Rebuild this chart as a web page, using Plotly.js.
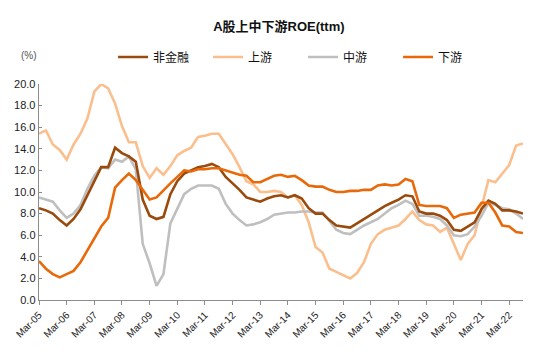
<!DOCTYPE html>
<html>
<head>
<meta charset="utf-8">
<script src="https://cdn.plot.ly/plotly-3.0.1.min.js"></script>
<style>html,body{margin:0;padding:0;background:#fff;}#chart{width:550px;height:353px;}</style>
</head>
<body>
<div id="chart"></div>
<script>
// Quarter categories Mar-05 .. Sep-22
const quarters = [
 "Mar-05","Jun-05","Sep-05","Dec-05","Mar-06","Jun-06","Sep-06","Dec-06",
 "Mar-07","Jun-07","Sep-07","Dec-07","Mar-08","Jun-08","Sep-08","Dec-08",
 "Mar-09","Jun-09","Sep-09","Dec-09","Mar-10","Jun-10","Sep-10","Dec-10",
 "Mar-11","Jun-11","Sep-11","Dec-11","Mar-12","Jun-12","Sep-12","Dec-12",
 "Mar-13","Jun-13","Sep-13","Dec-13","Mar-14","Jun-14","Sep-14","Dec-14",
 "Mar-15","Jun-15","Sep-15","Dec-15","Mar-16","Jun-16","Sep-16","Dec-16",
 "Mar-17","Jun-17","Sep-17","Dec-17","Mar-18","Jun-18","Sep-18","Dec-18",
 "Mar-19","Jun-19","Sep-19","Dec-19","Mar-20","Jun-20","Sep-20","Dec-20",
 "Mar-21","Jun-21","Sep-21","Dec-21","Mar-22","Jun-22","Sep-22"
];
const tickLabels = ["Mar-05","Mar-06","Mar-07","Mar-08","Mar-09","Mar-10","Mar-11","Mar-12","Mar-13",
 "Mar-14","Mar-15","Mar-16","Mar-17","Mar-18","Mar-19","Mar-20","Mar-21","Mar-22"];

const nonFinancial = [8.5,8.3,8.0,7.4,6.9,7.5,8.4,9.7,11.1,12.3,12.3,14.1,13.6,13.3,12.8,9.3,
 7.8,7.5,7.7,9.8,11.0,11.7,12.0,12.3,12.4,12.6,12.3,11.4,10.8,10.2,9.5,9.3,
 9.1,9.4,9.6,9.7,9.5,9.7,9.4,8.5,8.0,8.0,7.4,6.9,6.8,6.7,7.1,7.5,
 7.9,8.3,8.7,9.0,9.3,9.7,9.6,8.2,8.0,8.0,7.8,7.4,6.5,6.4,6.8,7.2,
 8.4,9.2,8.9,8.3,8.3,8.2,8.0];
const upstream = [15.4,15.7,14.4,13.9,13.0,14.4,15.4,16.8,19.3,20.0,19.6,18.2,16.1,14.6,14.6,12.4,
 11.3,12.2,11.6,12.4,13.4,13.8,14.1,15.1,15.2,15.4,15.4,14.5,13.5,12.3,11.0,10.7,
 10.0,10.0,10.1,10.0,9.5,9.7,8.8,7.2,4.9,4.4,2.9,2.6,2.3,2.0,2.5,3.5,
 5.2,6.1,6.5,6.7,6.9,7.5,8.2,7.4,7.0,6.9,6.3,6.7,5.2,3.7,5.2,6.0,
 8.6,11.1,10.9,11.7,12.5,14.3,14.5];
const midstream = [9.5,9.3,9.1,8.3,7.6,8.0,8.8,10.3,11.5,12.3,12.2,13.0,12.8,13.3,12.1,5.2,
 3.4,1.3,2.4,7.1,8.5,9.8,10.3,10.6,10.6,10.6,10.3,8.9,8.0,7.4,6.9,7.0,
 7.2,7.5,7.9,8.0,8.1,8.1,8.2,8.2,8.1,8.1,7.3,6.5,6.2,6.1,6.5,6.9,
 7.2,7.5,8.0,8.5,8.8,9.2,8.9,7.8,7.8,7.7,7.5,6.9,6.0,5.9,6.1,6.8,
 7.8,9.0,8.8,8.5,8.4,8.0,7.5];
const downstream = [3.6,2.9,2.4,2.1,2.4,2.7,3.5,4.6,5.6,6.8,7.6,10.4,11.1,11.7,11.1,10.2,
 9.3,9.5,10.2,10.8,11.4,12.0,11.9,12.1,12.1,12.2,12.2,12.0,11.8,11.6,11.5,10.9,
 10.9,11.2,11.5,11.6,11.4,11.5,11.1,10.6,10.5,10.5,10.2,10.0,10.0,10.1,10.1,10.2,
 10.2,10.6,10.7,10.6,10.7,11.2,11.0,8.8,8.7,8.7,8.7,8.5,7.6,7.9,8.0,8.1,
 9.0,9.0,8.1,6.9,6.8,6.3,6.2];

const names = ["非金融","上游","中游","下游"];
const colors = ["#9A4A0C","#FBBF8E","#BFBFBF","#E8690A"];

function tr(y, k, rank) {
  return {x: quarters, y: y, type: "scatter", mode: "lines", name: names[k],
    line: {color: colors[k], width: 2.6}, legendrank: rank, hoverinfo: "skip"};
}

const data = [tr(upstream,1,2), tr(midstream,2,3), tr(nonFinancial,0,1), tr(downstream,3,4)];

const font = "Liberation Sans, Arial, Noto Sans CJK SC, sans-serif";
const layout = {
  width: 550, height: 353,
  margin: {l: 39, r: 27, t: 84, b: 53},
  paper_bgcolor: "#fff", plot_bgcolor: "#fff",
  font: {family: font, color: "#222", size: 11},
  title: {text: "<b>A股上中下游ROE(ttm)</b>", x: 0.507, xanchor: "center", y: 0.926, yanchor: "middle",
    font: {size: 13, color: "#111", family: font}},
  showlegend: true,
  legend: {orientation: "h", x: 0.153, xanchor: "left", y: 1.125, yanchor: "middle",
    entrywidth: 50, entrywidthmode: "pixels", font: {size: 12, color: "#111"},
    itemwidth: 30, traceorder: "normal", bgcolor: "rgba(0,0,0,0)"},
  xaxis: {type: "category", range: [0, quarters.length - 1], tickmode: "array",
    tickvals: tickLabels, ticktext: tickLabels, tickangle: -45,
    showline: true, linecolor: "#8c8c8c", linewidth: 1.3, ticks: "outside", ticklen: 4,
    tickcolor: "#8c8c8c", showgrid: false, zeroline: false, tickfont: {size: 10, color: "#222"}},
  yaxis: {range: [0, 20], dtick: 2, tick0: 0, tickformat: ".1f",
    showline: true, linecolor: "#8c8c8c", linewidth: 1.3, ticks: "inside", ticklen: 3,
    tickcolor: "#8c8c8c", showgrid: false, zeroline: false, tickfont: {size: 11, color: "#222"}},
  annotations: [{text: "(%)", xref: "paper", yref: "paper", x: -0.02, y: 1.13, xanchor: "center",
    yanchor: "middle", showarrow: false, font: {size: 10, color: "#555"}}]
};

Plotly.newPlot("chart", data, layout, {displayModeBar: false, staticPlot: true});
</script>
</body>
</html>
